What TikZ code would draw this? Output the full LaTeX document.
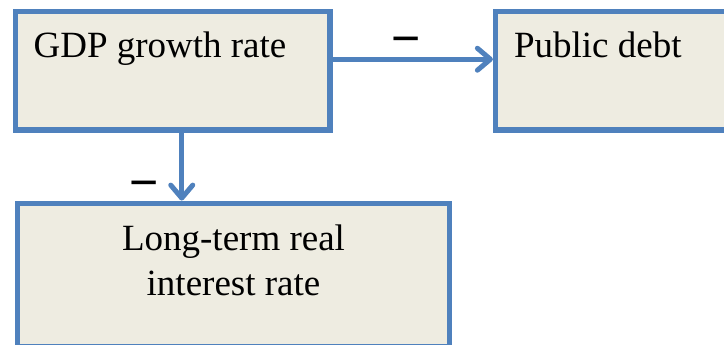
\documentclass[tikz,border=0pt]{standalone}
\usepackage{fontspec}
\setmainfont{Liberation Serif}
\newfontfamily\minusfont{Liberation Sans}
\usetikzlibrary{arrows.meta}
\definecolor{boxblue}{HTML}{4F81BD}
\definecolor{boxfill}{HTML}{EEECE1}
\begin{document}
\begin{tikzpicture}[x=1pt,y=1pt,
  box/.style={draw=boxblue, fill=boxfill, line width=5.2pt, rectangle, inner sep=0pt},
  boxtext/.style={inner sep=0pt, font=\fontsize{37}{45}\selectfont},
  link/.style={draw=boxblue, line width=5pt, -{Straight Barb[length=13pt,width=22pt,line cap=round,line join=round]}},
  minuslabel/.style={inner sep=0pt, font=\minusfont\fontsize{50}{50}\selectfont}]
\useasboundingbox (0,0) rectangle (724,345);
\begin{scope}
\clip (0,0) rectangle (724,345);
\node[box, minimum width=314.5pt, minimum height=118.5pt] (b1) at (172.75,274.25) {};
\node[box, minimum width=264.5pt, minimum height=118.5pt] (b2) at (627.75,274.25) {};
\node[box, minimum width=432pt, minimum height=143.8pt] (b3) at (233.5,69.9) {};
\end{scope}
\node[boxtext, anchor=base west] (t1) at ([xshift=20.5pt,yshift=-49pt]b1.north west) {GDP growth rate};
\node[boxtext, anchor=base west] (t2) at ([xshift=21pt,yshift=-49pt]b2.north west) {Public debt};
\node[boxtext, align=center, anchor=base] (t3) at ([yshift=-95.1pt]b3.north) {Long-term real\\interest rate};
\draw[link] ([yshift=11.5pt]b1.east) -- ([yshift=11.5pt]b2.west);
\draw[link] ([xshift=9pt]b1.south) -- ([xshift=9pt]b1.south |- b3.north);
\node[minuslabel] (m1) at (406,299) {−};
\node[minuslabel] (m2) at (143.7,155) {−};
\end{tikzpicture}
\end{document}
